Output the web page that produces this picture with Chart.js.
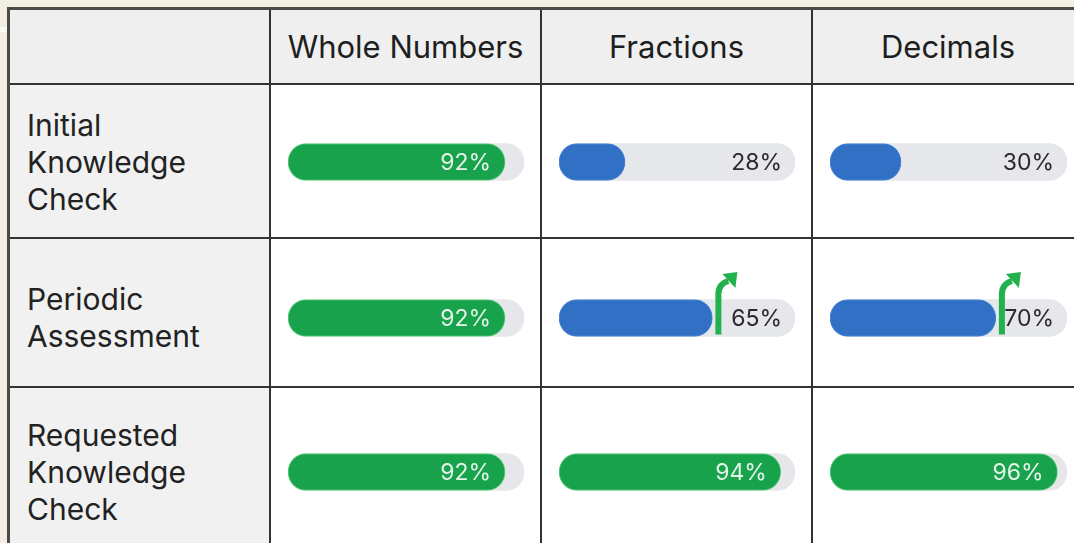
<!DOCTYPE html>
<html lang="en">

<head>
  <meta charset="UTF-8">
  <meta name="viewport" content="width=device-width, initial-scale=1.0">
  <script src="https://cdn.jsdelivr.net/npm/chart.js"></script>
  <title>Knowledge Check Progress</title>
  <style>
    body {
      margin: 0;
      width: 1074px;
      height: 543px;
      overflow: hidden;
      background-color: #f2eee1;
      font-family: 'Inter', 'Liberation Sans', sans-serif;
      position: relative;
    }

    #strip {
      position: absolute;
      left: 0;
      top: 27px;
      width: 7px;
      height: 5px;
      background: #fbfaf6;
    }

    #grid {
      position: absolute;
      left: 7px;
      top: 7px;
      display: grid;
      grid-template-columns: 261px 271px 271px 272px;
      grid-template-rows: 75px 154px 149px 170px;
      border-left: 3px solid #4a4a48;
      border-top: 3px solid #4a4a48;
      background: #fff;
    }

    .cell {
      position: relative;
      box-sizing: border-box;
      border-right: 2px solid #333;
      border-bottom: 2px solid #333;
      background: #fff;
    }

    .head {
      background: #efefef;
      display: flex;
      align-items: center;
      justify-content: center;
      font-size: 31px;
      color: #1e1e1e;
    }

    .label {
      background: #f1f1f1;
    }

    .label div {
      position: absolute;
      left: 17px;
      transform: translateY(-50%);
      font-size: 30px;
      line-height: 37px;
      color: #222;
      white-space: pre-line;
    }

    .bar {
      position: absolute;
      left: 0;
      right: 0;
      height: 100px;
      transform: translateY(-50%);
    }
  </style>
</head>

<body>
  <div id="strip"></div>
  <div id="grid"></div>

  <script>
    const columns = ['Whole Numbers', 'Fractions', 'Decimals'];
    const rowLabels = ['Initial\nKnowledge\nCheck', 'Periodic\nAssessment', 'Requested\nKnowledge\nCheck'];

    const wholeNumbers = [92, 92, 92];
    const fractions = [28, 65, 94];
    const decimals = [30, 70, 96];

    // cells that get the green "improving" arrow
    const improvedWhole = [false, false, false];
    const improvedFractions = [false, true, false];
    const improvedDecimals = [false, true, false];

    const rowCenters = [77, 79, 84];

    const seriesByColumn = [wholeNumbers, fractions, decimals];
    const arrowsByColumn = [improvedWhole, improvedFractions, improvedDecimals];

    const GREEN = '#18a24b';
    const BLUE = '#3170c5';
    const TRACK = '#e6e7ea';
    const MASTERED = 90;

    const grid = document.getElementById('grid');

    // header row
    const corner = document.createElement('div');
    corner.className = 'cell head';
    grid.appendChild(corner);
    columns.forEach(name => {
      const h = document.createElement('div');
      h.className = 'cell head';
      h.innerText = name;
      grid.appendChild(h);
    });

    const labelPlugin = {
      id: 'cellLabel',
      afterDatasetsDraw(chart) {
        const ctx = chart.ctx;
        const bar = chart.getDatasetMeta(0).data[0];
        const track = chart.getDatasetMeta(1).data[0];
        const value = chart.data.datasets[0].data[0];
        const opts = chart.options.plugins.cellLabel;
        const half = bar.height / 2;

        ctx.save();
        ctx.font = '23px Inter, "Liberation Sans", sans-serif';
        ctx.textAlign = 'right';
        ctx.textBaseline = 'middle';
        if (value >= MASTERED) {
          ctx.fillStyle = 'rgba(255,255,255,0.88)';
          ctx.fillText(value + '%', bar.x - 14, bar.y + 1);
        } else {
          ctx.fillStyle = '#2a2a2a';
          ctx.fillText(value + '%', track.x - 13, bar.y + 1);
        }

        if (opts.arrow) {
          const x0 = bar.x + 6;
          const y = bar.y;
          ctx.strokeStyle = '#23b14d';
          ctx.fillStyle = '#23b14d';
          ctx.lineWidth = 6;
          ctx.beginPath();
          ctx.moveTo(x0, y + half - 2);
          ctx.lineTo(x0, y - 24);
          ctx.quadraticCurveTo(x0, y - 34, x0 + 10, y - 37);
          ctx.stroke();
          ctx.beginPath();
          ctx.moveTo(x0 + 4, y - 44);
          ctx.lineTo(x0 + 19, y - 46);
          ctx.lineTo(x0 + 17, y - 30);
          ctx.closePath();
          ctx.fill();
        }
        ctx.restore();
      }
    };

    rowLabels.forEach((label, r) => {
      const lc = document.createElement('div');
      lc.className = 'cell label';
      const txt = document.createElement('div');
      txt.style.top = rowCenters[r] + 'px';
      txt.innerText = label;
      lc.appendChild(txt);
      grid.appendChild(lc);

      seriesByColumn.forEach((series, c) => {
        const cell = document.createElement('div');
        cell.className = 'cell';
        const wrap = document.createElement('div');
        wrap.className = 'bar';
        wrap.style.top = rowCenters[r] + 'px';
        const canvas = document.createElement('canvas');
        wrap.appendChild(canvas);
        cell.appendChild(wrap);
        grid.appendChild(cell);

        const value = series[r];
        const color = value >= MASTERED ? GREEN : BLUE;

        new Chart(canvas.getContext('2d'), {
          type: 'bar',
          data: {
            labels: [columns[c]],
            datasets: [{
              data: [value],
              backgroundColor: color,
              borderColor: value >= MASTERED ? '#5fd07e' : '#4a86d6',
              borderWidth: 1,
              borderRadius: 19,
              borderSkipped: false,
              barThickness: 37,
              grouped: false,
              order: 0
            }, {
              data: [100],
              backgroundColor: TRACK,
              borderRadius: 19,
              borderSkipped: false,
              barThickness: 37,
              grouped: false,
              order: 1
            }]
          },
          options: {
            indexAxis: 'y',
            responsive: true,
            maintainAspectRatio: false,
            animation: false,
            layout: {
              padding: { left: 17, right: 16, top: 0, bottom: 0 }
            },
            scales: {
              x: { min: 0, max: 100, display: false },
              y: { display: false }
            },
            plugins: {
              legend: { display: false },
              tooltip: { enabled: false },
              cellLabel: { arrow: arrowsByColumn[c][r] }
            }
          },
          plugins: [labelPlugin]
        });
      });
    });
  </script>
</body>

</html>
